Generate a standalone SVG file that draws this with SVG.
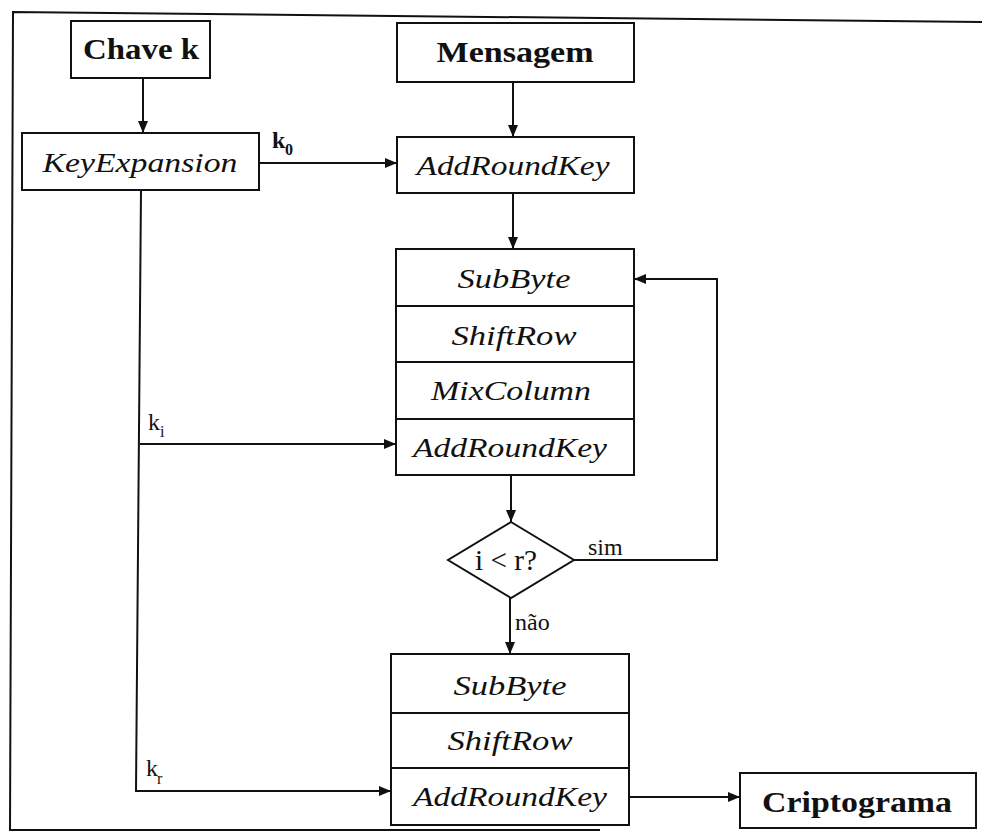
<svg xmlns="http://www.w3.org/2000/svg" width="982" height="835" viewBox="0 0 982 835">
<defs>
<style>
.box{fill:#fff;stroke:#111;stroke-width:2}
.ln{fill:none;stroke:#111;stroke-width:2}
.b{font-family:"Liberation Serif","Times New Roman",serif;font-weight:bold;font-size:29px;fill:#111;text-anchor:middle}
.i{font-family:"Liberation Serif","Times New Roman",serif;font-style:italic;font-size:27px;fill:#111;text-anchor:middle}
.l{font-family:"Liberation Serif","Times New Roman",serif;font-size:24px;fill:#111}
.lb{font-family:"Liberation Serif","Times New Roman",serif;font-weight:bold;font-size:24px;fill:#111}
.sub{font-size:16px}
.dec{font-size:29px;text-anchor:middle}
</style>
<marker id="ah" viewBox="0 0 12 10" refX="12" refY="5" markerWidth="12" markerHeight="10" markerUnits="userSpaceOnUse" orient="auto">
<path d="M0,0 L12,5 L0,10 Z" fill="#111"/>
</marker>
</defs>
<rect width="982" height="835" fill="#fff"/>
<g id="frame">
<path class="ln" d="M982,22 L13,12 L10,830 L600,830" stroke-width="2.5"/>
</g>
<g id="connectors">
<path class="ln" d="M143,78 L143,133" marker-end="url(#ah)"/>
<path class="ln" d="M513,82 L513,137" marker-end="url(#ah)"/>
<path class="ln" d="M259,163 L397,163" marker-end="url(#ah)"/>
<path class="ln" d="M513,193 L513,249" marker-end="url(#ah)"/>
<path class="ln" d="M141,190 L136,791 L391,791" marker-end="url(#ah)"/>
<path class="ln" d="M140,444 L396,444" marker-end="url(#ah)"/>
<path class="ln" d="M511,475 L511,522" marker-end="url(#ah)"/>
<path class="ln" d="M574,560 L717,560 L717,279 L634,279" marker-end="url(#ah)"/>
<path class="ln" d="M510,598 L510,654" marker-end="url(#ah)"/>
<path class="ln" d="M629,797 L740,797" marker-end="url(#ah)"/>
<text class="lb" x="272" y="148">k</text><text class="lb sub" x="285" y="155">0</text>
<text class="l" x="148" y="430">k</text><text class="l sub" x="160" y="437">i</text>
<text class="l" x="146" y="776">k</text><text class="l sub" x="157" y="784">r</text>
<text class="l" x="588" y="555">sim</text>
<text class="l" x="515" y="630">não</text>
</g>
<g id="chave">
<rect class="box" x="71" y="21" width="139" height="57"/>
<text class="b" x="141" y="59" textLength="116" lengthAdjust="spacingAndGlyphs">Chave k</text>
</g>
<g id="mensagem">
<rect class="box" x="397" y="23" width="237" height="59"/>
<text class="b" x="515" y="62" textLength="157" lengthAdjust="spacingAndGlyphs">Mensagem</text>
</g>
<g id="keyexpansion">
<rect class="box" x="22" y="133" width="237" height="57"/>
<text class="i" x="140" y="172" textLength="195" lengthAdjust="spacingAndGlyphs">KeyExpansion</text>
</g>
<g id="addroundkey0">
<rect class="box" x="397" y="137" width="237" height="56"/>
<text class="i" x="513" y="175" textLength="193" lengthAdjust="spacingAndGlyphs">AddRoundKey</text>
</g>
<g id="round">
<rect class="box" x="396" y="249" width="238" height="226"/>
<path class="ln" d="M396,306 L634,306 M396,362 L634,362 M396,419 L634,419"/>
<text class="i" x="514" y="288" textLength="113" lengthAdjust="spacingAndGlyphs">SubByte</text>
<text class="i" x="514" y="345" textLength="125" lengthAdjust="spacingAndGlyphs">ShiftRow</text>
<text class="i" x="511" y="400" textLength="160" lengthAdjust="spacingAndGlyphs">MixColumn</text>
<text class="i" x="510" y="457" textLength="194" lengthAdjust="spacingAndGlyphs">AddRoundKey</text>
</g>
<g id="decision">
<path class="box" d="M511,522 L574,560 L511,598 L448,560 Z"/>
<text class="l dec" x="506" y="570" textLength="62" lengthAdjust="spacingAndGlyphs">i &lt; r?</text>
</g>
<g id="final">
<rect class="box" x="391" y="654" width="238" height="171"/>
<path class="ln" d="M391,713 L629,713 M391,768 L629,768"/>
<text class="i" x="510" y="695" textLength="113" lengthAdjust="spacingAndGlyphs">SubByte</text>
<text class="i" x="510" y="750" textLength="125" lengthAdjust="spacingAndGlyphs">ShiftRow</text>
<text class="i" x="510" y="806" textLength="194" lengthAdjust="spacingAndGlyphs">AddRoundKey</text>
</g>
<g id="criptograma">
<rect class="box" x="740" y="773" width="236" height="55"/>
<text class="b" x="857" y="812" textLength="190" lengthAdjust="spacingAndGlyphs">Criptograma</text>
</g>
</svg>
